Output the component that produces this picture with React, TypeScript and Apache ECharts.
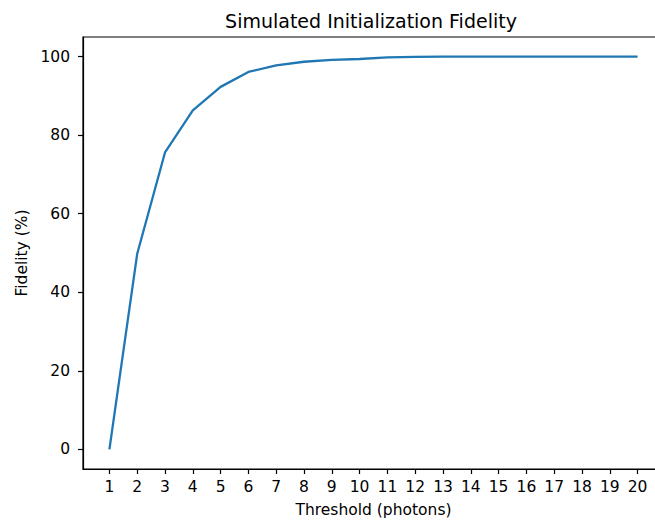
import React, { useEffect, useRef } from "react";
import * as echarts from "echarts";

const thresholds = [1, 2, 3, 4, 5, 6, 7, 8, 9, 10, 11, 12, 13, 14, 15, 16, 17, 18, 19, 20];
const fidelity = [0, 49.8, 75.6, 86.3, 92.3, 96.1, 97.8, 98.7, 99.2, 99.4, 99.8, 99.95, 100, 100, 100, 100, 100, 100, 100, 100];
const yTicks = [0, 20, 40, 60, 80, 100];
const titleText = "Simulated Initialization Fidelity";
const xName = "Threshold (photons)";
const yName = "Fidelity (%)";

export default function App() {
  const ref = useRef<HTMLDivElement>(null);
  useEffect(() => {
    if (!ref.current) return;
    const chart = echarts.init(ref.current, null, { renderer: "svg" });
    const font = "DejaVu Sans";
    chart.setOption({
      animation: false,
      backgroundColor: "#fff",
      title: {
        text: titleText,
        left: 366,
        top: 6,
        textAlign: "center",
        textStyle: { fontFamily: font, fontSize: 19, fontWeight: "normal", color: "#000" },
      },
      grid: {
        left: 83,
        top: 37,
        width: 581,
        height: 432,
        outerBoundsMode: "none",
        containLabel: false,
        show: true,
        borderColor: "#000",
        borderWidth: 1.2,
        backgroundColor: "transparent",
      },
      xAxis: {
        type: "value",
        min: 0.05,
        max: 20.95,
        name: xName,
        nameLocation: "middle",
        nameGap: 33,
        nameTextStyle: { fontFamily: font, fontSize: 15.5, color: "#000" },
        axisLine: { show: true, onZero: false, lineStyle: { color: "#000", width: 1.2 } },
        axisTick: { show: true, length: 5, customValues: thresholds, lineStyle: { color: "#000", width: 1.2 } },
        axisLabel: { customValues: thresholds, margin: 10, fontFamily: font, fontSize: 15.5, color: "#000" },
        splitLine: { show: false },
      },
      yAxis: {
        type: "value",
        min: -5,
        max: 105,
        name: yName,
        nameLocation: "middle",
        nameGap: 52,
        nameRotate: 90,
        nameTextStyle: { fontFamily: font, fontSize: 15.5, color: "#000" },
        axisLine: { show: true, onZero: false, lineStyle: { color: "#000", width: 1.2 } },
        axisTick: { show: true, length: 5, customValues: yTicks, lineStyle: { color: "#000", width: 1.2 } },
        axisLabel: { customValues: yTicks, margin: 13, fontFamily: font, fontSize: 15.5, color: "#000" },
        splitLine: { show: false },
      },
      series: [
        {
          type: "line",
          data: thresholds.map((t, i) => [t, fidelity[i]]),
          showSymbol: false,
          lineStyle: { color: "#1f77b4", width: 2.3 },
          itemStyle: { color: "#1f77b4" },
        },
      ],
    });
    return () => chart.dispose();
  }, []);
  return (
    <div
      ref={ref}
      style={{ position: "absolute", left: 0, top: 0, width: 655, height: 521 }}
    />
  );
}
